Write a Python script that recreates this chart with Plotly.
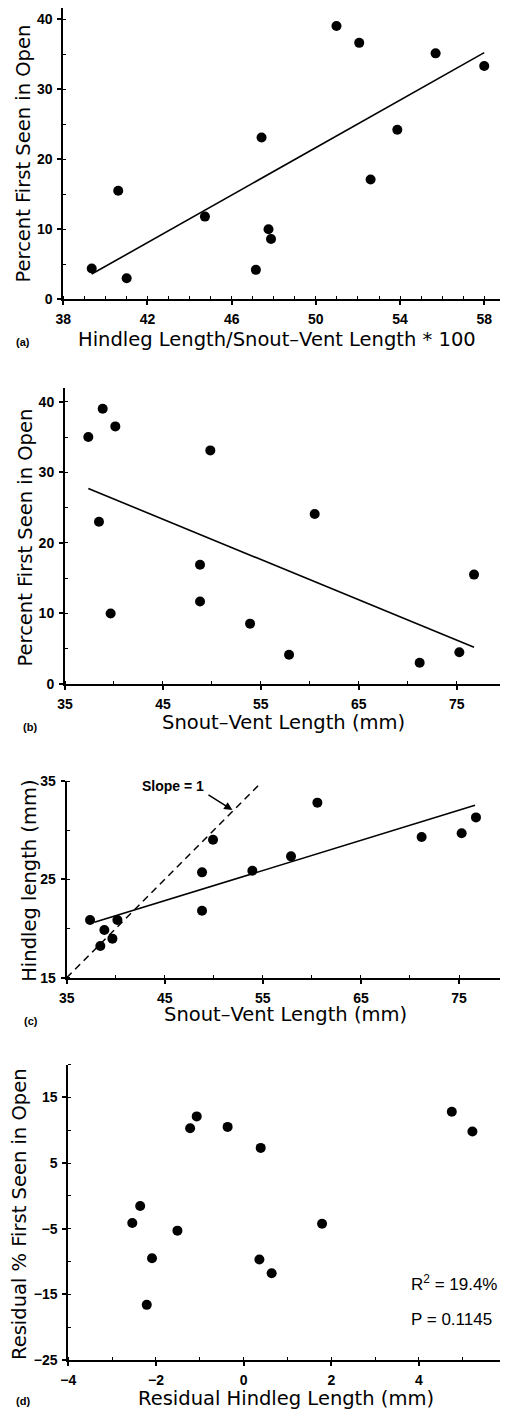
import plotly.graph_objects as go

# The page body keeps the browser's default 8px margin, so the figure is drawn
# 8px smaller and every reference pixel position is shifted by that offset.
PAGE_W, PAGE_H = 508, 1410
OFF = 8
W, H = PAGE_W - OFF, PAGE_H - OFF

# ---------------- data ----------------
# (a) relative hindleg length vs % first seen in open
a_x = [39.35, 40.61, 41.01, 44.73, 47.42, 47.15, 47.75, 47.87, 50.98, 52.06, 52.6, 53.87, 55.69, 58.0]
a_y = [4.4, 15.5, 3.0, 11.8, 23.1, 4.2, 10.0, 8.6, 39.0, 36.6, 17.1, 24.2, 35.1, 33.3]
a_fit_x = [39.35, 58.0]
a_fit_y = [3.6, 35.2]

# (b) snout-vent length vs % first seen in open
b_x = [37.38, 38.85, 40.14, 49.84, 38.47, 39.66, 48.79, 48.79, 53.9, 57.88, 60.5, 71.22, 75.27, 76.77]
b_y = [35.0, 39.0, 36.5, 33.1, 23.0, 10.0, 16.9, 11.7, 8.55, 4.15, 24.1, 3.0, 4.5, 15.5]
b_fit_x = [37.38, 76.77]
b_fit_y = [27.7, 5.2]

# (c) snout-vent length vs hindleg length
c_x = [37.38, 38.84, 38.43, 39.66, 40.17, 48.8, 48.8, 49.92, 53.93, 57.87, 60.56, 71.19, 75.27, 76.73]
c_y = [20.86, 19.85, 18.22, 18.97, 20.86, 25.71, 21.81, 29.03, 25.88, 27.34, 32.8, 29.3, 29.68, 31.3]
c_fit_x = [37.82, 76.63]
c_fit_y = [20.63, 32.53]
slope1_x = [35, 54.8]
slope1_y = [15, 34.8]

# (d) residuals
d_x = [-1.07, -1.22, -0.365, 0.39, 4.75, 5.22, -2.36, -2.54, -1.51, 1.79, -2.09, 0.36, 0.64, -2.21]
d_y = [12.1, 10.3, 10.5, 7.3, 12.8, 9.8, -1.55, -4.15, -5.3, -4.25, -9.5, -9.7, -11.8, -16.6]

# ---------------- layout helpers ----------------
def px_x(p):
    return (p - OFF) / W

def px_y(p):
    return 1 - (p - OFF) / H

TICKFONT = dict(family="Liberation Sans", size=14, color="black", weight="bold")
TITLEFONT = dict(family="DejaVu Sans", size=19.5, color="black")

panels = [
    dict(x0=63.3, x1=501.7, yt=5, yb=299.3, xr=[38, 58.83], yr=[0, 42.0],
         xt0=38, xdt=4, xmi=1, yt0=0, ydt=10, ymi=5),
    dict(x0=65.0, x1=503.3, yt=388.3, yb=684.0, xr=[35, 79.76], yr=[0, 41.9],
         xt0=35, xdt=10, xmi=5, yt0=0, ydt=10, ymi=5),
    dict(x0=66.7, x1=505.0, yt=781.0, yb=977.7, xr=[35, 79.69], yr=[15, 35],
         xt0=35, xdt=10, xmi=5, yt0=15, ydt=10, ymi=5),
    dict(x0=68.3, x1=507.9, yt=1064.5, yb=1360.0, xr=[-4, 6.03], yr=[-25, 20],
         xt0=-4, xdt=2, xmi=1, yt0=-25, ydt=10, ymi=5),
]

fig = go.Figure()

datasets = [
    (a_x, a_y, a_fit_x, a_fit_y),
    (b_x, b_y, b_fit_x, b_fit_y),
    (c_x, c_y, c_fit_x, c_fit_y),
    (d_x, d_y, None, None),
]

for i, (xs, ys, fx, fy) in enumerate(datasets):
    n = "" if i == 0 else str(i + 1)
    if fx is not None:
        fig.add_trace(go.Scatter(x=fx, y=fy, mode="lines", xaxis="x" + n, yaxis="y" + n,
                                 line=dict(color="black", width=1.6), showlegend=False,
                                 hoverinfo="skip", cliponaxis=False))
    if i == 2:
        fig.add_trace(go.Scatter(x=slope1_x, y=slope1_y, mode="lines", xaxis="x3", yaxis="y3",
                                 line=dict(color="black", width=1.5, dash="7px,5px"),
                                 showlegend=False, hoverinfo="skip", cliponaxis=False))
    fig.add_trace(go.Scatter(x=xs, y=ys, mode="markers", xaxis="x" + n, yaxis="y" + n,
                             marker=dict(color="black", size=10, line=dict(width=0)),
                             showlegend=False, cliponaxis=False))

layout = dict(
    width=W, height=H, autosize=False,
    margin=dict(l=0, r=0, t=0, b=0, pad=0, autoexpand=False),
    paper_bgcolor="white", plot_bgcolor="white",
    showlegend=False,
)

for i, p in enumerate(panels):
    n = "" if i == 0 else str(i + 1)
    xd = [max(0.0, px_x(p["x0"])), min(1.0, px_x(p["x1"]))]
    yd = [max(0.0, px_y(p["yb"])), min(1.0, px_y(p["yt"]))]
    # keep data scale consistent if the domain got clipped at the page top
    yr = list(p["yr"])
    if px_y(p["yt"]) > 1.0:
        span = (p["yb"] - p["yt"])
        per = (yr[1] - yr[0]) / span
        yr[1] = yr[0] + per * (p["yb"] - OFF)
    layout["xaxis" + n] = dict(
        domain=xd, range=p["xr"], anchor="y" + n, automargin=False,
        tick0=p["xt0"], dtick=p["xdt"], ticks="outside", ticklen=4, tickwidth=1.5,
        tickcolor="black", showline=True, linecolor="black", linewidth=2,
        showgrid=False, zeroline=False, tickfont=TICKFONT, ticklabelstandoff=2,
        ticklabeloverflow="allow",
        minor=dict(tick0=p["xt0"], dtick=p["xmi"], ticks="inside", ticklen=3,
                   tickwidth=1.2, tickcolor="black", showgrid=False),
    )
    layout["yaxis" + n] = dict(
        domain=yd, range=yr, anchor="x" + n, automargin=False,
        tick0=p["yt0"], dtick=p["ydt"], ticks="outside", ticklen=4, tickwidth=1.5,
        tickcolor="black", showline=True, linecolor="black", linewidth=2,
        showgrid=False, zeroline=False, tickfont=TICKFONT, ticklabelstandoff=2,
        ticklabeloverflow="allow",
        minor=dict(tick0=p["yt0"], dtick=p["ymi"], ticks="inside", ticklen=3,
                   tickwidth=1.2, tickcolor="black", showgrid=False),
    )
    # ghost axes so that major ticks cross the axis line
    g = str(i + 5)
    layout["xaxis" + g] = dict(
        domain=xd, range=p["xr"], anchor="y" + n, overlaying="x" + n, automargin=False,
        tick0=p["xt0"], dtick=p["xdt"], ticks="inside", ticklen=4, tickwidth=1.5,
        tickcolor="black", showline=False, showgrid=False, zeroline=False,
        showticklabels=False,
    )
    layout["yaxis" + g] = dict(
        domain=yd, range=yr, anchor="x" + n, overlaying="y" + n, automargin=False,
        tick0=p["yt0"], dtick=p["ydt"], ticks="inside", ticklen=4, tickwidth=1.5,
        tickcolor="black", showline=False, showgrid=False, zeroline=False,
        showticklabels=False,
    )

ann = []

def text(px, py, s, font, angle=0, xanchor="center"):
    ann.append(dict(x=px_x(px), y=px_y(py), xref="paper", yref="paper", text=s,
                    showarrow=False, font=font, textangle=angle,
                    xanchor=xanchor, yanchor="middle"))

# axis titles
text(276.5, 339, "Hindleg Length/Snout\u2013Vent Length * 100", TITLEFONT)
text(23, 153.5, "Percent First Seen in Open", TITLEFONT, angle=-90)
text(283, 722, "Snout\u2013Vent Length (mm)", TITLEFONT)
text(25, 537.5, "Percent First Seen in Open", TITLEFONT, angle=-90)
text(285, 1015, "Snout\u2013Vent Length (mm)", TITLEFONT)
text(30, 880.8, "Hindleg length (mm)", TITLEFONT, angle=-90)
text(286, 1398, "Residual Hindleg Length (mm)", TITLEFONT)
text(19, 1214, "Residual % First Seen in Open", TITLEFONT, angle=-90)

# panel labels
LBL = dict(family="Liberation Sans", size=11, color="black", weight="bold")
text(22.5, 342, "(a)", LBL)
text(29.5, 727, "(b)", LBL)
text(30.5, 1021, "(c)", LBL)
text(22.5, 1401, "(d)", LBL)

# slope annotation
text(172.5, 786, "Slope = 1", dict(family="Liberation Sans", size=14, color="black", weight="bold"))
ann.append(dict(x=51.9, y=32.05, xref="x3", yref="y3", ax=-25.5, ay=-16, axref="pixel", ayref="pixel",
                text="", showarrow=True, arrowhead=2, arrowsize=1.1, arrowwidth=1.5,
                arrowcolor="black", standoff=0, startstandoff=0))

# stats
STAT = dict(family="Liberation Sans", size=17, color="black")
text(409, 1283, "R<sup>2</sup> = 19.4%", STAT, xanchor="left")
text(409, 1319, "P = 0.1145", STAT, xanchor="left")

layout["annotations"] = ann
fig.update_layout(**layout)

fig.write_html("out.html")
